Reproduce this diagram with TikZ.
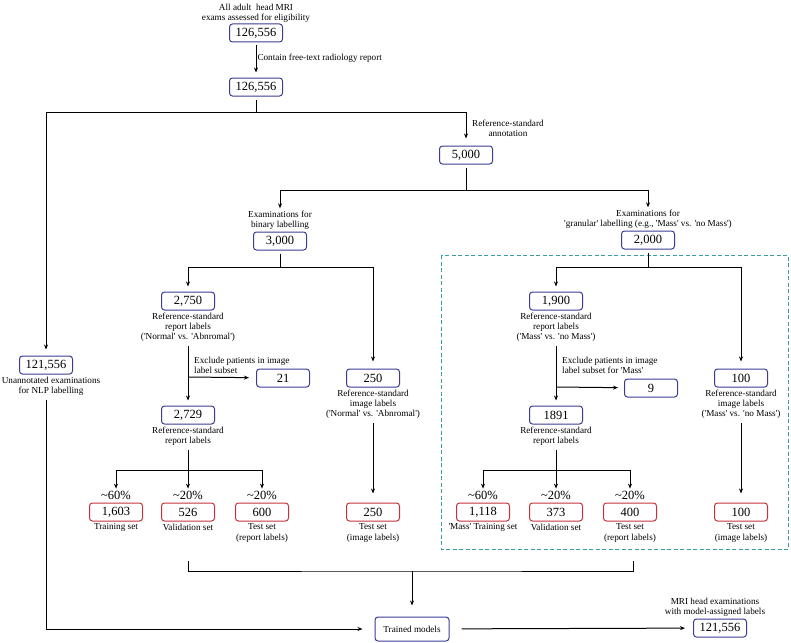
\documentclass[tikz,border=0pt]{standalone}
\usepackage{fontspec}
\setmainfont{Liberation Serif}[Ligatures=TeXOff]
\usetikzlibrary{positioning}
\usetikzlibrary{arrows.meta}
\definecolor{boxblue}{HTML}{3B3B96}
\definecolor{boxred}{HTML}{C4323C}
\definecolor{subteal}{HTML}{3A9E9E}
\tikzset{x=1pt, y=-1pt,
count/.style={ % blue boxes with the counts
draw=boxblue, line width=1pt, rounded corners=3pt,
minimum width=53pt, minimum height=18pt, inner sep=1pt,
font=\fontsize{12.5}{14}\selectfont},
split/.style={ % red boxes of the final sets
count, draw=boxred},
note/.style={ % small captions
align=center, inner sep=1pt,
font=\fontsize{9.2}{10.3}\selectfont},
pct/.style={inner sep=1pt, font=\fontsize{12.5}{14}\selectfont},
arr/.style={-{Stealth[length=5pt,width=4pt]}, shorten >=5pt},
line/.style={draw, line width=1pt},
gap/.style={shorten <=3pt},
every edge/.style={ % arrows between boxes
draw, line width=1pt, arr}}

\begin{document}
\begin{tikzpicture}
\useasboundingbox (0,0) rectangle (791,642);
% sub-study for the granular labels
\draw[subteal, line width=1pt, dash pattern=on 4pt off 2.5pt] (441,255) rectangle (788,549);

% top
\node[count] (n0) at (256,33) {126,556};
\node[note, above=0pt of n0] (t0) {All adult~ head MRI\\exams assessed for eligibility};
\node[count] (n1) at (256,87) {126,556};
\draw (n0) edge[gap] node[note, right, pos=0.45] {Contain free-text radiology report} (n1);
\coordinate (sp0) at (256,112);
\coordinate (cl) at (46,112);
\coordinate (cr) at (466,112);
\draw[line, gap] (n1) -- (sp0);
\draw[line] (cl) -- (cr);

\node[count] (n2) at (466,155) {5,000};
\node[note, anchor=west] at (471,128) {Reference-standard\\annotation};
\draw (cr) edge[shorten >=7pt] (n2);

\coordinate (sp1) at (466,190);
\coordinate (bl) at (280,190);
\coordinate (br) at (648,190);
\draw[line, gap] (n2) -- (sp1);
\draw[line] (bl) -- (br);

\node[count] (n3) at (280,241) {3,000};
\node[note, above=1pt of n3] (t3) {Examinations for\\binary labelling};
\node[count] (n4) at (648,240) {2,000};
\node[note, above=1pt of n4] (t4) {Examinations for\\'granular' labelling (e.g., 'Mass' vs. 'no Mass')};
\draw (bl) edge[shorten >=1pt] (t3);
\draw (br) edge[shorten >=1pt] (t4);

% binary labels
\coordinate (sp2) at (280,267);
\coordinate (a) at (188,267);
\coordinate (b) at (373,267);
\draw[line, gap] (n3) -- (sp2);
\draw[line] (a) -- (b);

\node[count] (n5) at (188,301) {2,750};
\node[note, below=1pt of n5] (t5) {Reference-standard\\report labels\\('Normal' vs. 'Abnromal')};
\draw (a) edge (n5);
\node[count] (n7) at (188,415) {2,729};
\node[note, below=1pt of n7] (t7) {Reference-standard\\report labels};
\draw (t5) edge[gap] (n7);
\coordinate (x1) at (188,377);
\node[count] (n21) at (283,378) {21};
\node[note, anchor=south west, align=left] at (193,375) {Exclude patients in image\\label subset};
\draw (x1) edge[shorten >=7pt] (n21);

\coordinate (sp3) at (188,470);
\coordinate (c1) at (116,470);
\coordinate (c3) at (262,470);
\draw[line, gap] (t7) -- (sp3);
\draw[line] (c1) -- (c3);
\node[split] (r1) at (116,512) {1,603};
\node[split] (r2) at (188,512) {526};
\node[split] (r3) at (262,512) {600};
\node[pct, above=2pt of r1] (p1) {\textasciitilde60\%};
\node[pct, above=2pt of r2] (p2) {\textasciitilde20\%};
\node[pct, above=2pt of r3] (p3) {\textasciitilde20\%};
\draw (c1) edge[shorten >=1pt] (p1);
\draw (sp3) edge[shorten >=1pt] (p2);
\draw (c3) edge[shorten >=1pt] (p3);
\node[note, below=1pt of r1] (s1) {Training set};
\node[note, below=1pt of r2] (s2) {Validation set};
\node[note, below=1pt of r3] (s3) {Test set\\(report labels)};

\node[count] (n8) at (373,378) {250};
\node[note, below=1pt of n8] (t8) {Reference-standard\\image labels\\('Normal' vs. 'Abnromal')};
\draw (b) edge[shorten >=7pt] (n8);
\node[split] (r4) at (373,512) {250};
\node[note, below=1pt of r4] (s4) {Test set\\(image labels)};
\draw (t8) edge[gap, shorten >=9pt] (r4);

% granular labels
\coordinate (sp4) at (648,267);
\coordinate (d) at (556,267);
\coordinate (e) at (741,267);
\draw[line, gap] (n4) -- (sp4);
\draw[line] (d) -- (e);

\node[count] (n9) at (556,301) {1,900};
\node[note, below=1pt of n9] (t9) {Reference-standard\\report labels\\('Mass' vs. 'no Mass')};
\draw (d) edge (n9);
\node[count] (n11) at (556,415) {1891};
\node[note, below=1pt of n11] (t11) {Reference-standard\\report labels};
\draw (t9) edge[gap] (n11);
\coordinate (x2) at (556,387);
\node[count] (n10) at (651,388) {9};
\node[note, anchor=south west, align=left] at (561,375) {Exclude patients in image\\label subset for 'Mass'};
\draw (x2) edge[shorten >=6pt] (n10);

\coordinate (sp5) at (556,470);
\coordinate (f1) at (483,470);
\coordinate (f3) at (630,470);
\draw[line, gap] (t11) -- (sp5);
\draw[line] (f1) -- (f3);
\node[split] (r5) at (483,512) {1,118};
\node[split] (r6) at (556,512) {373};
\node[split] (r7) at (630,512) {400};
\node[pct, above=2pt of r5] (p5) {\textasciitilde60\%};
\node[pct, above=2pt of r6] (p6) {\textasciitilde20\%};
\node[pct, above=2pt of r7] (p7) {\textasciitilde20\%};
\draw (f1) edge[shorten >=1pt] (p5);
\draw (sp5) edge[shorten >=1pt] (p6);
\draw (f3) edge[shorten >=1pt] (p7);
\node[note, below=1pt of r5] (s5) {'Mass' Training set};
\node[note, below=1pt of r6] (s6) {Validation set};
\node[note, below=1pt of r7] (s7) {Test set\\(report labels)};

\node[count] (n12) at (741,378) {100};
\node[note, below=1pt of n12] (t12) {Reference-standard\\image labels\\('Mass' vs. 'no Mass')};
\draw (e) edge[shorten >=7pt] (n12);
\node[split] (r8) at (741,512) {100};
\node[note, below=1pt of r8] (s8) {Test set\\(image labels)};
\draw (t12) edge[gap, shorten >=9pt] (r8);

% unannotated
\node[count] (n13) at (46,365) {121,556};
\node[note, below=1pt of n13, xshift=5pt] (t13) {Unannotated examinations\\for NLP labelling};
\draw (cl) edge[shorten >=6pt] (n13);

% models
\coordinate (g1) at (188,561);
\coordinate (g2) at (633,561);
\coordinate (gm) at (412,571);
\draw[line] (g1) |- (gm) -| (g2);
\node[count, minimum width=74pt, minimum height=24pt, font=\fontsize{9.2}{11}\selectfont] (tm) at (412,629) {Trained models};
\draw (gm) edge[shorten >=11pt] (tm);
\draw[line, arr, gap, shorten >=12pt] (t13.south -| n13) |- (tm);
\node[count] (n14) at (720,628) {121,556};
\node[note, above=1pt of n14, xshift=-5pt] {MRI head examinations\\with model-assigned labels};
\draw (tm) edge[shorten <=12pt, shorten >=8pt] (n14);
\end{tikzpicture}
\end{document}
